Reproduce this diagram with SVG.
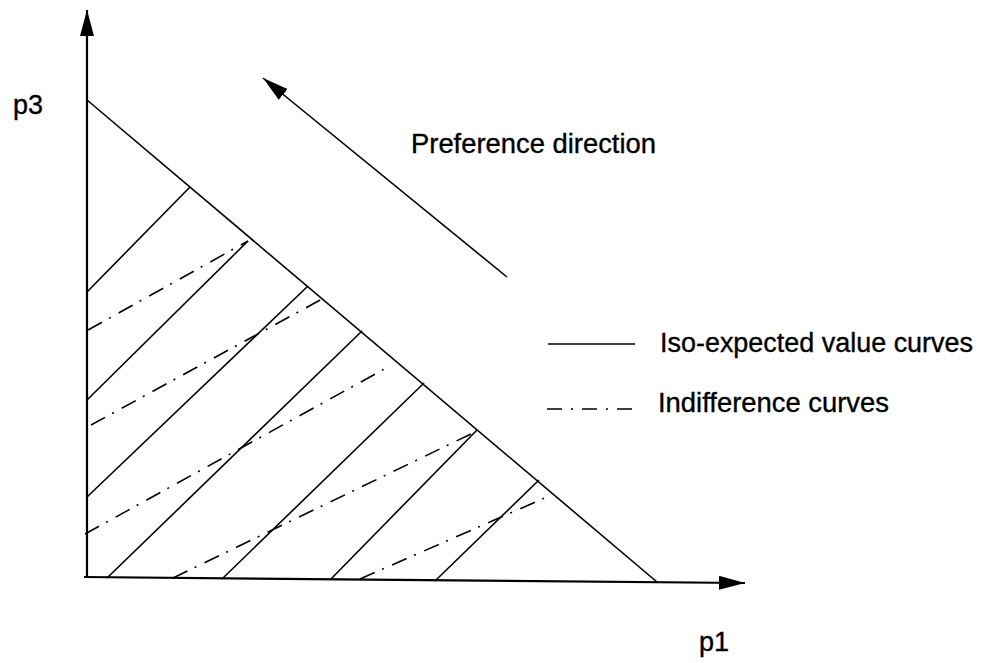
<svg xmlns="http://www.w3.org/2000/svg" width="982" height="663" viewBox="0 0 982 663">
<style>
.ax{stroke:#000;stroke-width:2.2;fill:none}
.sol{stroke:#000;stroke-width:1.6;fill:none}
.dd{stroke:#000;stroke-width:1.6;fill:none;stroke-dasharray:16 8 2 9}
.t{font-family:"Liberation Sans",Arial,sans-serif;font-size:27px;fill:#000;stroke:#000;stroke-width:0.35}
</style>
<defs>
<marker id="ah" viewBox="0 0 26 14" refX="26" refY="7" markerWidth="26" markerHeight="14" markerUnits="userSpaceOnUse" orient="auto">
<path d="M0,0 L26,7 L0,14 z" fill="#000"/>
</marker>
</defs>
<rect width="982" height="663" fill="#fff"/>
<g id="axes">
<line class="ax" x1="87" y1="578" x2="87" y2="10" marker-end="url(#ah)"/>
<line class="ax" x1="84" y1="577" x2="745" y2="583" marker-end="url(#ah)"/>
</g>
<g id="boundary">
<line class="sol" x1="87" y1="100" x2="657" y2="582"/>
</g>
<g id="iso-curves">
<line class="sol" x1="87" y1="292" x2="190" y2="187"/>
<line class="sol" x1="87" y1="400" x2="248" y2="241"/>
<line class="sol" x1="87" y1="497" x2="308" y2="286"/>
<line class="sol" x1="107" y1="578" x2="362" y2="331"/>
<line class="sol" x1="222" y1="579" x2="424" y2="383"/>
<line class="sol" x1="330" y1="580" x2="477" y2="430"/>
<line class="sol" x1="435" y1="581" x2="539" y2="480"/>
</g>
<g id="indifference-curves">
<line class="dd" x1="88" y1="330" x2="248" y2="241"/>
<line class="dd" x1="91" y1="425" x2="322" y2="299"/>
<line class="dd" x1="85" y1="534" x2="388" y2="367"/>
<line class="dd" x1="173" y1="578" x2="477" y2="431"/>
<line class="dd" x1="360" y1="579" x2="547" y2="497"/>
</g>
<g id="preference-arrow">
<line class="sol" x1="507" y1="277" x2="263" y2="78" marker-end="url(#ah)"/>
<text class="t" x="411" y="153" textLength="245" lengthAdjust="spacingAndGlyphs">Preference direction</text>
</g>
<g id="legend">
<line class="sol" x1="548" y1="344" x2="635" y2="344"/>
<text class="t" x="660" y="352" textLength="313" lengthAdjust="spacingAndGlyphs">Iso-expected value curves</text>
<line class="sol" x1="547" y1="409" x2="633" y2="409" style="stroke-dasharray:15 9 2 9"/>
<text class="t" x="658" y="412" textLength="231" lengthAdjust="spacingAndGlyphs">Indifference curves</text>
</g>
<g id="labels">
<text class="t" x="13" y="114">p3</text>
<text class="t" x="699" y="651">p1</text>
</g>
</svg>
